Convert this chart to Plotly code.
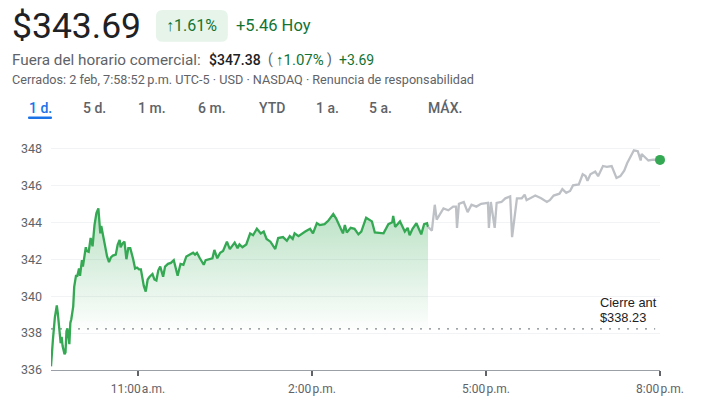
import plotly.graph_objects as go

W, H = 701, 407
PREV_CLOSE = 338.23
FILL_BASE = 338
TICK_MIN = [90, 270, 450, 630]
TICK_TXT = ["11:00\u200aa.m.", "2:00\u200ap.m.", "5:00\u200ap.m.", "8:00\u200ap.m."]
Y_TICKS = [336, 338, 340, 342, 344, 346, 348]

# minutes since 9:30 a.m.
reg_min = [0,1,2,4,6,7,9,10,11,12,14,15,16,17,19,20,21,23,24,26,27,29,30,32,33,36,37,39,41,43,45,47,49,51,52,54,56,58,60,62,64,67,69,71,72,74,76,78,80,82,85,87,89,91,93,96,98,100,102,105,107,109,111,113,116,118,121,124,127,131,134,137,140,144,147,149,151,154,158,160,163,167,169,172,175,178,182,185,
           190,193,195,198,202,206,209,213,217,220,223,227,232,235,240,244,247,250,252,256,263,268,271,275,278,283,287,292,295,300,302,304,306,310,314,318,321,326,332,335,340,344,349,353,354,356,361,366,369,371,374,378,383,386,389,390]
reg_val = [336.2,336.75,337.65,338.85,339.5,339.1,337.65,337.45,337.8,337.3,336.85,336.95,338.1,338.25,337.4,338.55,338.75,339.45,340.5,341.15,341.05,341.5,341.1,341.95,341.6,342.65,342.45,342.4,343.15,342.7,343.85,344.5,344.75,343.4,343.8,343.2,342.7,342.15,341.85,342.1,342.2,342.25,342.8,343.05,342.65,342.85,342.95,342.0,342.6,342.6,342.0,341.5,341.55,341.45,341.45,340.55,340.25,340.9,341.05,341.2,340.9,340.85,341.4,341.6,341.05,341.6,341.75,341.8,341.95,341.1,341.75,341.7,342.15,342.25,342.35,342.25,342.35,342.05,341.7,341.95,342.0,342.05,342.5,342.05,342.35,342.45,342.95,342.55,
           342.9,342.6,342.8,342.65,342.8,343.4,343.3,343.65,343.4,343.5,343.1,342.95,342.55,343.15,343.2,343.0,343.25,343.1,343.4,343.25,343.5,343.65,343.4,343.95,343.85,343.9,344.1,344.45,344.2,343.65,343.4,343.85,343.45,343.7,343.65,343.35,343.5,344.25,344.05,343.45,343.4,343.4,343.9,344.0,344.35,343.75,344.05,343.5,343.7,343.3,343.65,343.95,343.35,343.9,343.95,343.75]
ext_min = [390,394,397,399,406,411,416,419,420,422,427,431,435,440,445,452,453,455,459,461,466,470,475,477,482,487,490,492,501,507,513,516,520,526,529,533,537,540,546,550,553,555,558,563,566,571,575,580,585,589,593,596,603,607,610,611,618,623,630]
ext_val = [343.75,343.55,344.95,344.15,344.75,344.65,344.85,344.85,343.7,345.0,345.1,344.55,344.95,344.85,345.0,345.05,343.7,345.1,343.7,345.05,345.1,345.3,345.4,343.2,345.3,345.3,345.5,345.2,345.45,345.3,345.1,345.2,345.45,345.55,345.8,345.6,345.7,346.0,346.05,346.6,346.5,346.25,346.6,346.75,346.5,347.05,347.0,347.05,346.4,346.5,346.8,347.2,347.9,347.85,347.35,347.7,347.35,347.4,347.38]

GREEN, GRAY = "#34a853", "#bdc1c6"
L, R, T, B = 51, 660.5, 129.5, 370.5
def px(x): return (x - L) / (R - L)
def py(y): return (B - y) / (B - T)

fig = go.Figure()
fig.add_trace(go.Scatter(x=reg_min, y=[FILL_BASE] * len(reg_min), mode="lines", line=dict(width=0), hoverinfo="skip", showlegend=False))
fig.add_trace(go.Scatter(x=reg_min, y=[max(v, FILL_BASE) for v in reg_val], mode="lines", fill="tonexty", line=dict(width=0), hoverinfo="skip", showlegend=False,
    fillgradient=dict(type="vertical", colorscale=[[0, "rgba(52,168,83,0)"], [1, "rgba(52,168,83,0.34)"]])))
fig.add_trace(go.Scatter(x=[0, 625], y=[PREV_CLOSE, PREV_CLOSE], mode="lines", line=dict(color="#80868b", width=1.2, dash="2px,7px"), showlegend=False))
fig.add_trace(go.Scatter(x=reg_min, y=reg_val, mode="lines", line=dict(color=GREEN, width=2.3), showlegend=False, cliponaxis=False))
fig.add_trace(go.Scatter(x=ext_min, y=ext_val, mode="lines", line=dict(color=GRAY, width=2.3), showlegend=False, cliponaxis=False))
fig.add_trace(go.Scatter(x=ext_min[-1:], y=ext_val[-1:], mode="markers", marker=dict(color=GREEN, size=10), showlegend=False, cliponaxis=False))

fig.update_xaxes(range=[0, 630], tickmode="array", tickvals=TICK_MIN, ticktext=TICK_TXT, ticks="outside", ticklen=5, tickwidth=1.5,
    tickcolor="#5f6368", showgrid=False, zeroline=False, showline=True, linecolor="#9aa0a6", linewidth=1, ticklabelstandoff=3,
    tickfont=dict(family="Roboto", size=12, color="#5f6368"))
fig.update_yaxes(range=[336, 349], tickmode="array", tickvals=Y_TICKS, ticks="", showgrid=True, gridcolor="#f1f3f4", gridwidth=1,
    zeroline=False, tickfont=dict(family="Roboto", size=12.5, color="#5f6368"), ticklabelstandoff=8)

def note(x, y, text, size, color, anchor="left", weight=400, family="Roboto"):
    fig.add_annotation(xref="paper", yref="paper", x=px(x), y=py(y), text=text, showarrow=False, xanchor=anchor, yanchor="middle",
        font=dict(family=family, size=size, color=color, weight=weight), align="left", borderpad=0)

DARK, MID, UP, BLUE = "#202124", "#5f6368", "#137333", "#1a73e8"
note(11, 25, "$343.69", 35.5, DARK)
note(165, 25, "↑1.61%", 16, UP)
note(235, 25, "+5.46 Hoy", 16.5, UP)
note(11, 59, "Fuera del horario comercial:", 15.3, MID)
note(208, 59, "$347.38", 14, DARK, weight=500)
note(267, 59, "(", 14, MID)
note(275, 59, "↑1.07%", 15, UP)
note(326, 59, ")", 14, MID)
note(338, 59, "+3.69", 14, UP)
note(11, 79, "Cerrados: 2 feb, 7:58:52\u2009p.m. UTC-5 · USD · NASDAQ · Renuncia de responsabilidad", 12.65, MID)
for x, t in zip([40, 95, 152, 212, 272, 328, 381, 445], ["1 d.", "5 d.", "1 m.", "6 m.", "YTD", "1 a.", "5 a.", "MÁX."]):
    note(x, 107, t, 14, BLUE if t == "1 d." else MID, anchor="center", weight=500)
note(599, 302.5, "Cierre ant", 12.8, DARK, family="Liberation Sans")
note(599, 317.5, "$338.23", 12.8, DARK, family="Liberation Sans")

def rrect(x0, y0, x1, y1, r):
    X = lambda v: f"{px(v):.5f}"
    Y = lambda v: f"{py(v):.5f}"
    return (f"M{X(x0+r)},{Y(y0)} L{X(x1-r)},{Y(y0)} Q{X(x1)},{Y(y0)} {X(x1)},{Y(y0+r)} L{X(x1)},{Y(y1-r)} Q{X(x1)},{Y(y1)} {X(x1-r)},{Y(y1)} "
            f"L{X(x0+r)},{Y(y1)} Q{X(x0)},{Y(y1)} {X(x0)},{Y(y1-r)} L{X(x0)},{Y(y0+r)} Q{X(x0)},{Y(y0)} {X(x0+r)},{Y(y0)} Z")
fig.add_shape(type="path", xref="paper", yref="paper", path=rrect(156, 9, 228, 41, 7), fillcolor="#e6f4ea", line_width=0, layer="below")
fig.add_shape(type="path", xref="paper", yref="paper", path=rrect(28, 116, 52, 118.5, 1), fillcolor=BLUE, line_width=0)

fig.update_layout(width=W, height=H, margin=dict(l=L, r=W - R, t=T, b=H - B), plot_bgcolor="white", paper_bgcolor="white", showlegend=False, hovermode=False)
fig.write_html("out.html", post_script="document.body.style.margin='0';", config=dict(displayModeBar=False))
